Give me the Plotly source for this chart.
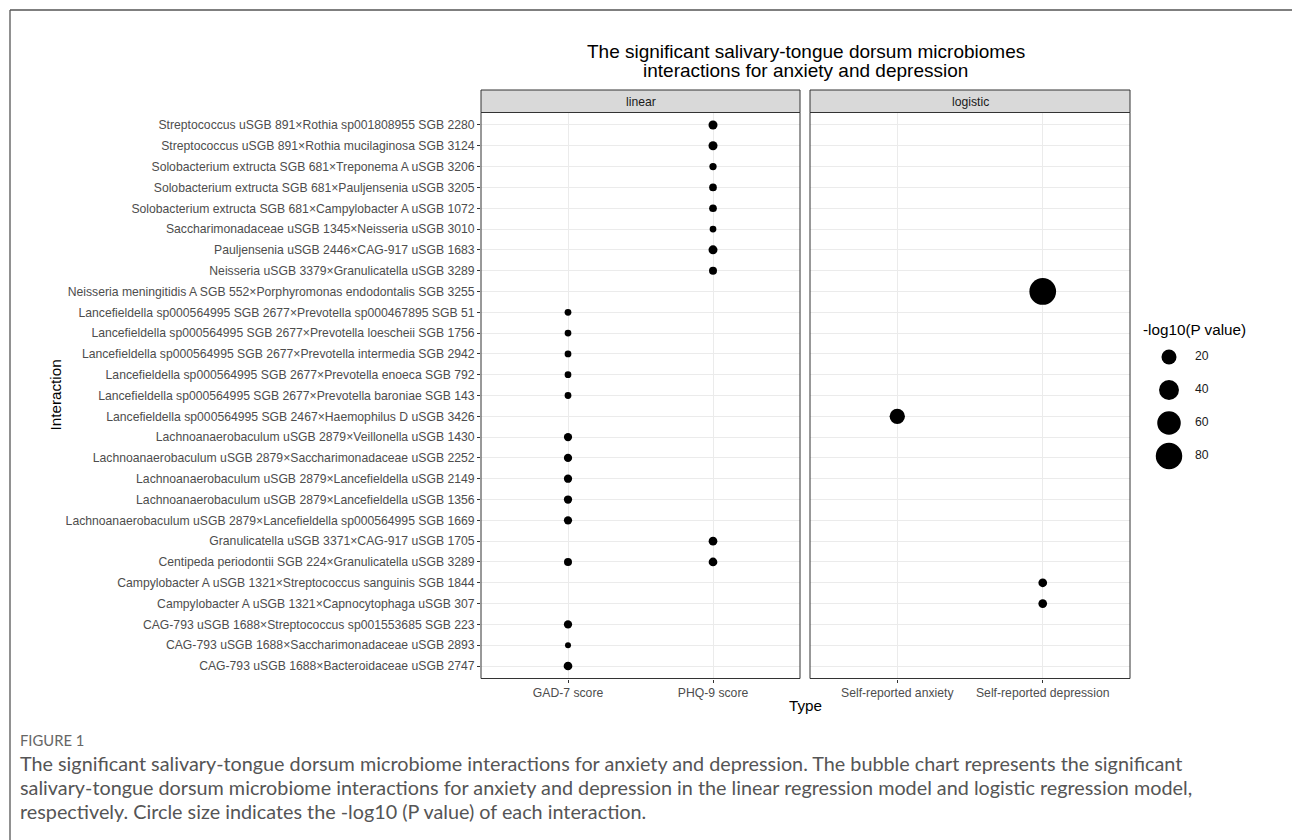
import plotly.graph_objects as go
import math

W, H = 1292, 840

# ---------------- data ----------------
interactions = [
    "Streptococcus uSGB 891×Rothia sp001808955 SGB 2280",
    "Streptococcus uSGB 891×Rothia mucilaginosa SGB 3124",
    "Solobacterium extructa SGB 681×Treponema A uSGB 3206",
    "Solobacterium extructa SGB 681×Pauljensenia uSGB 3205",
    "Solobacterium extructa SGB 681×Campylobacter A uSGB 1072",
    "Saccharimonadaceae uSGB 1345×Neisseria uSGB 3010",
    "Pauljensenia uSGB 2446×CAG-917 uSGB 1683",
    "Neisseria uSGB 3379×Granulicatella uSGB 3289",
    "Neisseria meningitidis A SGB 552×Porphyromonas endodontalis SGB 3255",
    "Lancefieldella sp000564995 SGB 2677×Prevotella sp000467895 SGB 51",
    "Lancefieldella sp000564995 SGB 2677×Prevotella loescheii SGB 1756",
    "Lancefieldella sp000564995 SGB 2677×Prevotella intermedia SGB 2942",
    "Lancefieldella sp000564995 SGB 2677×Prevotella enoeca SGB 792",
    "Lancefieldella sp000564995 SGB 2677×Prevotella baroniae SGB 143",
    "Lancefieldella sp000564995 SGB 2467×Haemophilus D uSGB 3426",
    "Lachnoanaerobaculum uSGB 2879×Veillonella uSGB 1430",
    "Lachnoanaerobaculum uSGB 2879×Saccharimonadaceae uSGB 2252",
    "Lachnoanaerobaculum uSGB 2879×Lancefieldella uSGB 2149",
    "Lachnoanaerobaculum uSGB 2879×Lancefieldella uSGB 1356",
    "Lachnoanaerobaculum uSGB 2879×Lancefieldella sp000564995 SGB 1669",
    "Granulicatella uSGB 3371×CAG-917 uSGB 1705",
    "Centipeda periodontii SGB 224×Granulicatella uSGB 3289",
    "Campylobacter A uSGB 1321×Streptococcus sanguinis SGB 1844",
    "Campylobacter A uSGB 1321×Capnocytophaga uSGB 307",
    "CAG-793 uSGB 1688×Streptococcus sp001553685 SGB 223",
    "CAG-793 uSGB 1688×Saccharimonadaceae uSGB 2893",
    "CAG-793 uSGB 1688×Bacteroidaceae uSGB 2747",
]

linear_types = ["GAD-7 score", "PHQ-9 score"]
logistic_types = ["Self-reported anxiety", "Self-reported depression"]

# linear model points
lin_interaction = [
    interactions[0], interactions[1], interactions[2], interactions[3],
    interactions[4], interactions[5], interactions[6], interactions[7],
    interactions[9], interactions[10], interactions[11], interactions[12], interactions[13],
    interactions[15], interactions[16], interactions[17], interactions[18], interactions[19],
    interactions[20], interactions[21], interactions[21],
    interactions[24], interactions[25], interactions[26],
]
lin_type = [
    "PHQ-9 score", "PHQ-9 score", "PHQ-9 score", "PHQ-9 score",
    "PHQ-9 score", "PHQ-9 score", "PHQ-9 score", "PHQ-9 score",
    "GAD-7 score", "GAD-7 score", "GAD-7 score", "GAD-7 score", "GAD-7 score",
    "GAD-7 score", "GAD-7 score", "GAD-7 score", "GAD-7 score", "GAD-7 score",
    "PHQ-9 score", "GAD-7 score", "PHQ-9 score",
    "GAD-7 score", "GAD-7 score", "GAD-7 score",
]
lin_logp = [
    7.2, 7.2, 5.9, 6.1,
    6.1, 5.7, 7.2, 6.3,
    5.7, 5.7, 5.7, 5.7, 5.7,
    6.5, 6.5, 6.5, 6.5, 6.5,
    6.9, 6.3, 6.9,
    6.5, 5.6, 6.9,
]

# logistic model points
log_interaction = [interactions[8], interactions[14], interactions[22], interactions[23]]
log_type = ["Self-reported depression", "Self-reported anxiety",
            "Self-reported depression", "Self-reported depression"]
log_logp = [81.6, 21.0, 6.9, 6.9]

legend_breaks = [20, 40, 60, 80]

# ---------------- size scale (area-like, ggplot style) ----------------
all_vals = lin_logp + log_logp
VMIN, VMAX = min(all_vals), max(all_vals)
D_MIN, D_SPAN = 6.0, 20.7


def diam(v):
    t = max(0.0, (v - VMIN) / (VMAX - VMIN))
    return D_MIN + D_SPAN * math.sqrt(t)


# ---------------- helpers for pixel layout ----------------
def px(x):
    return x / W


def py(y):
    return 1 - y / H


P_TOP, P_BOT = 112.5, 678.5
LIN_L, LIN_R = 481, 800
LOG_L, LOG_R = 810, 1130
STRIP_TOP = 90

AX_FONT = "Liberation Sans, Arial, sans-serif"
CAP_FONT = "Lato, Open Sans, sans-serif"
TICK = 12.2

fig = go.Figure()

fig.add_trace(go.Scatter(
    x=lin_type, y=lin_interaction, mode="markers",
    marker=dict(size=[diam(v) for v in lin_logp], color="#000000", opacity=1,
                line=dict(width=0), sizemode="diameter"),
    xaxis="x", yaxis="y", showlegend=False, hoverinfo="skip",
))
fig.add_trace(go.Scatter(
    x=log_type, y=log_interaction, mode="markers",
    marker=dict(size=[diam(v) for v in log_logp], color="#000000", opacity=1,
                line=dict(width=0), sizemode="diameter"),
    xaxis="x2", yaxis="y2", showlegend=False, hoverinfo="skip",
))

# size legend (drawn on its own small axes)
fig.add_trace(go.Scatter(
    x=[19] * len(legend_breaks), y=legend_breaks, mode="markers",
    marker=dict(size=[diam(v) for v in legend_breaks], color="#000000", opacity=1,
                line=dict(width=0)),
    xaxis="x3", yaxis="y3", showlegend=False, hoverinfo="skip",
))
fig.add_trace(go.Scatter(
    x=[45] * len(legend_breaks), y=legend_breaks, mode="text",
    text=[str(v) for v in legend_breaks], textposition="middle right",
    textfont=dict(family=AX_FONT, size=TICK, color="#1A1A1A"),
    xaxis="x3", yaxis="y3", showlegend=False, hoverinfo="skip",
))

n = len(interactions)
grid = "#EBEBEB"
ycommon = dict(
    type="category", categoryorder="array", categoryarray=interactions,
    range=[n - 0.4, -0.6], showgrid=True, gridcolor=grid, gridwidth=1,
    zeroline=False, fixedrange=True,
    domain=[py(P_BOT), py(P_TOP)],
)
xcommon = dict(
    type="category", range=[-0.6, 1.6], showgrid=True, gridcolor=grid, gridwidth=1,
    zeroline=False, ticks="outside", ticklen=3, tickcolor="#333333", tickwidth=1,
    tickfont=dict(family=AX_FONT, size=TICK, color="#4D4D4D"),
    showline=False, fixedrange=True,
)

fig.update_layout(
    width=W, height=H,
    margin=dict(l=0, r=0, t=0, b=0),
    paper_bgcolor="white", plot_bgcolor="white",
    xaxis=dict(xcommon, domain=[px(LIN_L), px(LIN_R)], anchor="y",
               categoryorder="array", categoryarray=linear_types),
    xaxis2=dict(xcommon, domain=[px(LOG_L), px(LOG_R)], anchor="y2",
                categoryorder="array", categoryarray=logistic_types),
    yaxis=dict(ycommon, anchor="x", ticks="outside", ticklen=3,
               tickcolor="#333333", tickwidth=1,
               tickfont=dict(family=AX_FONT, size=TICK, color="#4D4D4D")),
    yaxis2=dict(ycommon, anchor="x2", matches="y", showticklabels=False, ticks=""),
    xaxis3=dict(domain=[px(1150), px(1250)], range=[0, 100], anchor="y3",
                visible=False, fixedrange=True),
    yaxis3=dict(domain=[py(472.5), py(340.5)], range=[90, 10], anchor="x3",
                visible=False, fixedrange=True),
    showlegend=False,
)

shapes = []
# outer frame (top and left edges)
shapes.append(dict(type="line", xref="paper", yref="paper",
                   x0=px(10), x1=1.0, y0=py(10), y1=py(10),
                   line=dict(color="#555555", width=1.3)))
shapes.append(dict(type="line", xref="paper", yref="paper",
                   x0=px(10), x1=px(10), y0=py(10), y1=0,
                   line=dict(color="#555555", width=1.3)))
for (l, r) in [(LIN_L, LIN_R), (LOG_L, LOG_R)]:
    shapes.append(dict(type="rect", xref="paper", yref="paper",
                       x0=px(l), x1=px(r), y0=py(P_TOP), y1=py(STRIP_TOP),
                       fillcolor="#D9D9D9", line=dict(color="#333333", width=1)))
    shapes.append(dict(type="rect", xref="paper", yref="paper", layer="above",
                       x0=px(l), x1=px(r), y0=py(P_BOT), y1=py(P_TOP),
                       fillcolor="rgba(0,0,0,0)", line=dict(color="#333333", width=1)))
fig.update_layout(shapes=shapes)

ann = []


def text(x, y, s, size, color="black", family=AX_FONT, xanchor="center",
         textangle=0):
    ann.append(dict(x=px(x), y=py(y), xref="paper", yref="paper", text=s,
                    showarrow=False, xanchor=xanchor, yanchor="middle",
                    font=dict(family=family, size=size, color=color),
                    textangle=textangle))


text((LIN_L + LOG_R) / 2, 51, "The significant salivary-tongue dorsum microbiomes", 19)
text((LIN_L + LOG_R) / 2, 70, "interactions for anxiety and depression", 19)
text((LIN_L + LIN_R) / 2, 101.5, "linear", TICK, "#1A1A1A")
text((LOG_L + LOG_R) / 2, 101.5, "logistic", TICK, "#1A1A1A")
text((LIN_L + LOG_R) / 2, 705, "Type", 15.25)
text(55, (P_TOP + P_BOT) / 2, "Interaction", 15.25, textangle=-90)
text(1141, 330, "-log10(P value)", 15.25, xanchor="left")

text(18, 740, "FIGURE 1", 14.8, "#666666", CAP_FONT, xanchor="left")
text(18, 763, "The significant salivary-tongue dorsum microbiome interactions for anxiety and depression. The bubble chart represents the significant",
     19.8, "#555555", CAP_FONT, xanchor="left")
text(18, 787, "salivary-tongue dorsum microbiome interactions for anxiety and depression in the linear regression model and logistic regression model,",
     19.8, "#555555", CAP_FONT, xanchor="left")
text(18, 811, "respectively. Circle size indicates the -log10 (P value) of each interaction.",
     19.8, "#555555", CAP_FONT, xanchor="left")

fig.update_layout(annotations=ann)

fig.write_html("out.html", config={"displayModeBar": False})
